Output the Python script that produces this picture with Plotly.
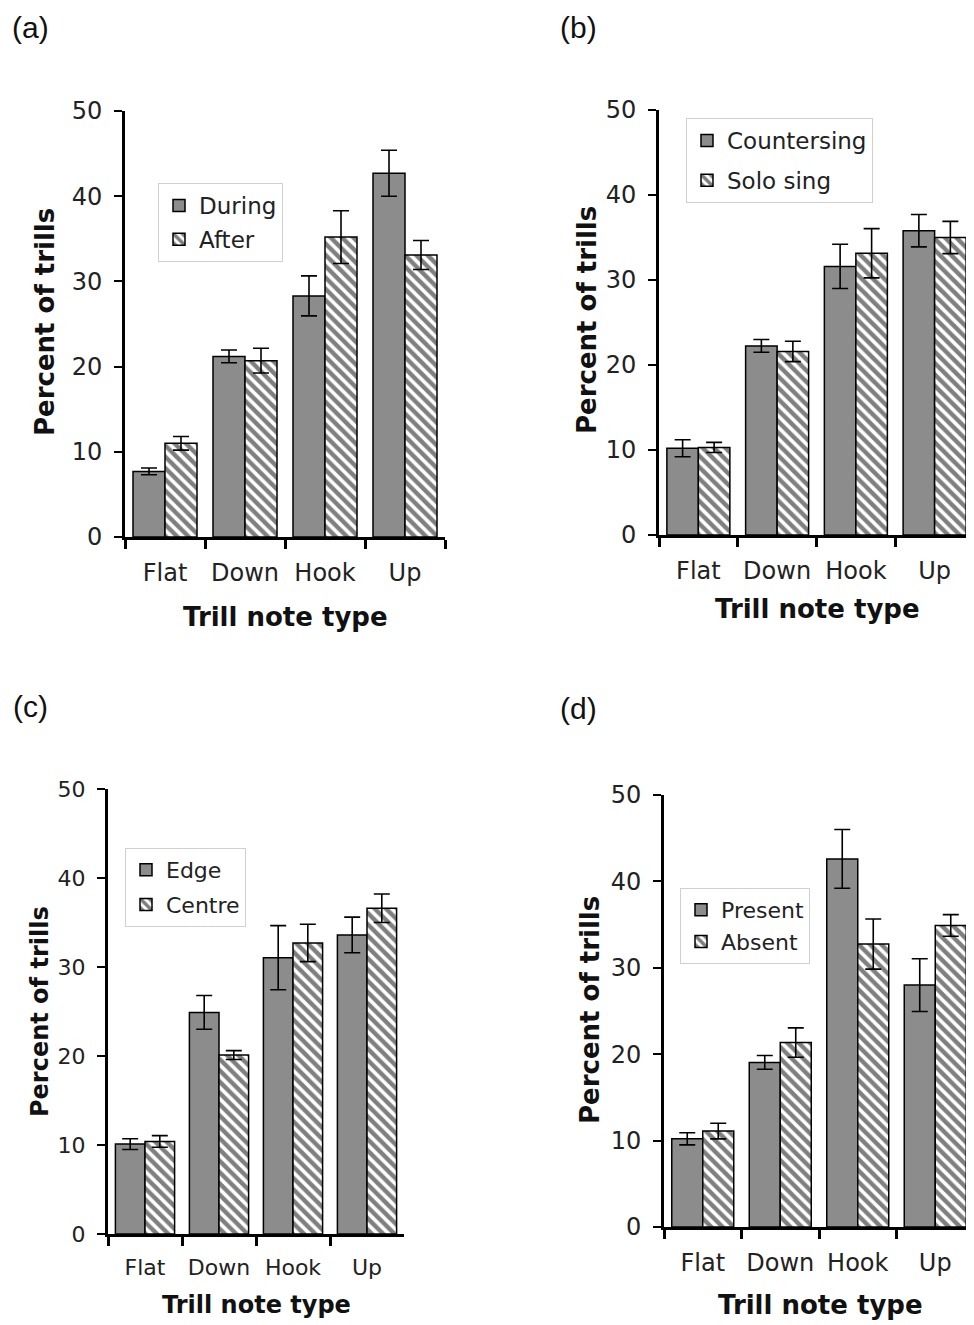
import plotly.graph_objects as go

categories = ["Flat", "Down", "Hook", "Up"]
y_ticks = [0, 10, 20, 30, 40, 50]

# Panel (a)
a_names = ["During", "After"]
a_during = [7.7, 21.2, 28.3, 42.7]
a_during_err = [0.4, 0.75, 2.35, 2.7]
a_after = [11.0, 20.7, 35.2, 33.1]
a_after_err = [0.8, 1.45, 3.1, 1.7]

# Panel (b)
b_names = ["Countersing", "Solo sing"]
b_counter = [10.2, 22.25, 31.6, 35.8]
b_counter_err = [1.0, 0.75, 2.6, 1.9]
b_solo = [10.3, 21.6, 33.15, 35.0]
b_solo_err = [0.6, 1.2, 2.9, 1.9]

# Panel (c)
c_names = ["Edge", "Centre"]
c_edge = [10.1, 24.9, 31.05, 33.6]
c_edge_err = [0.6, 1.9, 3.6, 2.0]
c_centre = [10.4, 20.1, 32.7, 36.6]
c_centre_err = [0.65, 0.5, 2.1, 1.6]

# Panel (d)
d_names = ["Present", "Absent"]
d_present = [10.2, 19.05, 42.6, 28.0]
d_present_err = [0.7, 0.8, 3.4, 3.05]
d_absent = [11.1, 21.35, 32.75, 34.9]
d_absent_err = [0.9, 1.7, 2.9, 1.25]

W, H = 974, 1325
OFF = 8  # page body margin
FONT = "DejaVu Sans"
GRAY = "#8c8c8c"


def px(x):
    return (x - OFF) / W


def py(y):
    return 1 - (y - OFF) / H


panels = [
    dict(key="", names=a_names, s1=a_during, e1=a_during_err, s2=a_after, e2=a_after_err,
         xd=(125, 445), yd=(537, 111), leg=(158, 183), legfont=23, gap=1, fs=24, tfs=26,
         label="(a)", labpos=(30, 27), ytitle=(45, 322), xtitle=(285, 617)),
    dict(key="2", names=b_names, s1=b_counter, e1=b_counter_err, s2=b_solo, e2=b_solo_err,
         xd=(659, 974), yd=(535, 110), leg=(686, 118), legfont=23, gap=7, fs=24, tfs=26,
         label="(b)", labpos=(578, 27), ytitle=(587, 320), xtitle=(817, 609)),
    dict(key="3", names=c_names, s1=c_edge, e1=c_edge_err, s2=c_centre, e2=c_centre_err,
         xd=(108, 404), yd=(1234, 789), leg=(125, 848), legfont=22, gap=3, fs=22, tfs=24,
         label="(c)", labpos=(30, 706), ytitle=(40, 1012), xtitle=(256, 1305)),
    dict(key="4", names=d_names, s1=d_present, e1=d_present_err, s2=d_absent, e2=d_absent_err,
         xd=(664, 974), yd=(1227, 795), leg=(680, 888), legfont=22, gap=0, fs=24, tfs=26,
         label="(d)", labpos=(578, 708), ytitle=(590, 1010), xtitle=(820, 1305)),
]

fig = go.Figure()
layout = dict(
    width=W, height=H,
    margin=dict(l=0, r=0, t=0, b=0, pad=0, autoexpand=False),
    paper_bgcolor="white", plot_bgcolor="white",
    barmode="group", bargap=0.2, bargroupgap=0.0,
    font=dict(family=FONT, color="#1a1a1a"),
    annotations=[],
)

for p in panels:
    k = p["key"]
    xa = "x" + k
    ya = "y" + k
    legname = "legend" + k
    err_style = dict(type="data", visible=True, color="black", thickness=1.6, width=8)
    fig.add_trace(go.Bar(
        x=categories, y=p["s1"], name=p["names"][0], xaxis=xa, yaxis=ya,
        marker=dict(color=GRAY, line=dict(color="black", width=1.5)),
        error_y=dict(array=p["e1"], **err_style),
        legend=legname, legendgroup=p["names"][0], offsetgroup="1",
    ))
    fig.add_trace(go.Bar(
        x=categories, y=p["s2"], name=p["names"][1], xaxis=xa, yaxis=ya,
        marker=dict(color="white", line=dict(color="black", width=1.5),
                    pattern=dict(shape="\\", size=8, solidity=0.55,
                                 fgcolor="black", bgcolor="white", fillmode="overlay")),
        error_y=dict(array=p["e2"], **err_style),
        legend=legname, legendgroup=p["names"][1], offsetgroup="2",
    ))
    layout["xaxis" + k] = dict(
        domain=[px(p["xd"][0]), px(p["xd"][1])], anchor=ya, automargin=False,
        type="category", categoryorder="array", categoryarray=categories,
        showline=True, linecolor="black", linewidth=3,
        ticks="outside", tickson="boundaries", ticklen=9, tickwidth=3, tickcolor="black",
        ticklabelstandoff=12, tickangle=0,
        tickfont=dict(family=FONT, size=p["fs"], color="#222"),
        showgrid=False, zeroline=False, fixedrange=True,
    )
    layout["yaxis" + k] = dict(
        domain=[py(p["yd"][0]), py(p["yd"][1])], anchor=xa, automargin=False,
        range=[0, 50], tickmode="array", tickvals=y_ticks,
        showline=True, linecolor="black", linewidth=3,
        ticks="outside", ticklen=8, tickwidth=2, tickcolor="black",
        ticklabelstandoff=7,
        tickfont=dict(family=FONT, size=p["fs"], color="#222"),
        showgrid=False, zeroline=False, fixedrange=True,
    )
    layout[legname] = dict(
        x=px(p["leg"][0]), y=py(p["leg"][1]), xanchor="left", yanchor="top",
        xref="paper", yref="paper",
        bgcolor="white", bordercolor="#d0d0d0", borderwidth=1,
        font=dict(family=FONT, size=p["legfont"], color="#222"),
        traceorder="grouped", tracegroupgap=p["gap"], itemwidth=30,
    )
    layout["annotations"].append(dict(
        text=p["label"], x=px(p["labpos"][0]), y=py(p["labpos"][1]),
        xref="paper", yref="paper", showarrow=False, xanchor="center", yanchor="middle",
        font=dict(family="Liberation Sans", size=30, color="#111"),
    ))
    layout["annotations"].append(dict(
        text="<b>Percent of trills</b>", x=px(p["ytitle"][0]), y=py(p["ytitle"][1]),
        xref="paper", yref="paper", showarrow=False, xanchor="center", yanchor="middle",
        textangle=-90, font=dict(family=FONT, size=p["tfs"], color="#111"),
    ))
    layout["annotations"].append(dict(
        text="<b>Trill note type</b>", x=px(p["xtitle"][0]), y=py(p["xtitle"][1]),
        xref="paper", yref="paper", showarrow=False, xanchor="center", yanchor="middle",
        font=dict(family=FONT, size=p["tfs"], color="#111"),
    ))

fig.update_layout(**layout)
fig.write_html("out.html")
